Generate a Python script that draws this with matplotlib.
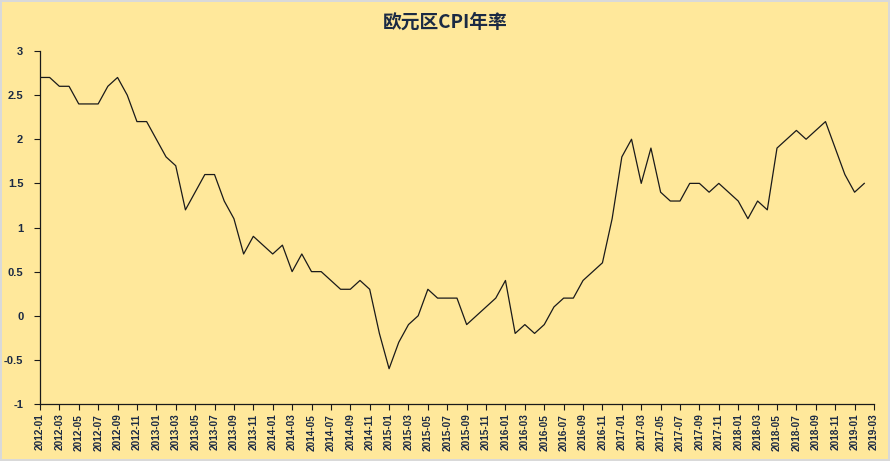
import matplotlib
matplotlib.use("Agg")
import matplotlib.pyplot as plt
import numpy as np

# monthly labels 2012-01 .. 2019-03
months = [f"{y}-{m:02d}" for y in range(2012, 2020) for m in range(1, 13)][:87]

cpi = [
    2.7, 2.7, 2.6, 2.6, 2.4, 2.4, 2.4, 2.6, 2.7, 2.5, 2.2, 2.2,      # 2012
    2.0, 1.8, 1.7, 1.2, 1.4, 1.6, 1.6, 1.3, 1.1, 0.7, 0.9, 0.8,      # 2013
    0.7, 0.8, 0.5, 0.7, 0.5, 0.5, 0.4, 0.3, 0.3, 0.4, 0.3, -0.2,     # 2014
    -0.6, -0.3, -0.1, 0.0, 0.3, 0.2, 0.2, 0.2, -0.1, 0.0, 0.1, 0.2,  # 2015
    0.4, -0.2, -0.1, -0.2, -0.1, 0.1, 0.2, 0.2, 0.4, 0.5, 0.6, 1.1,  # 2016
    1.8, 2.0, 1.5, 1.9, 1.4, 1.3, 1.3, 1.5, 1.5, 1.4, 1.5, 1.4,      # 2017
    1.3, 1.1, 1.3, 1.2, 1.9, 2.0, 2.1, 2.0, 2.1, 2.2, 1.9, 1.6,      # 2018
    1.4, 1.5,                                                        # 2019
]

bg = "#FFE89B"
txt = "#1B2A44"

fig = plt.figure(figsize=(8.9, 4.61), dpi=100, facecolor=bg,
                 edgecolor="#D9D9D9", linewidth=1.5)
ax = fig.add_axes([0.0449, 0.1236, 0.9371, 0.7658])
ax.set_facecolor(bg)

x = np.arange(len(cpi))
ax.plot(x, cpi, color="#1a1a1a", linewidth=0.9)

ax.set_xlim(0, len(months) - 1)
ax.set_ylim(-1, 3)
ax.set_yticks(np.arange(-1, 3.01, 0.5))
ax.set_yticklabels(["-1", "-0.5", "0", "0.5", "1", "1.5", "2", "2.5", "3"],
                   fontsize=8, fontweight="bold", color=txt,
                   family="Liberation Sans")
ax.set_xticks(np.arange(0, len(months), 2))
ax.set_xticklabels(months[::2], rotation=90, fontsize=7.2, fontweight="bold",
                   color=txt, family="Liberation Sans")

for s in ["top", "right"]:
    ax.spines[s].set_visible(False)
for s in ["left", "bottom"]:
    ax.spines[s].set_color("#1a1a1a")
    ax.spines[s].set_linewidth(0.9)
ax.tick_params(axis="both", direction="out", length=4, width=0.8,
               color="#1a1a1a", pad=3)
ax.tick_params(axis="y", pad=8)

fig.text(0.5, 0.952, "欧元区CPI年率", ha="center", va="center",
         fontsize=13.5, fontweight="bold", color=txt,
         family=["Noto Sans CJK SC", "DejaVu Sans"])

fig.savefig("out.png", dpi=100, facecolor=bg, edgecolor=fig.get_edgecolor())
